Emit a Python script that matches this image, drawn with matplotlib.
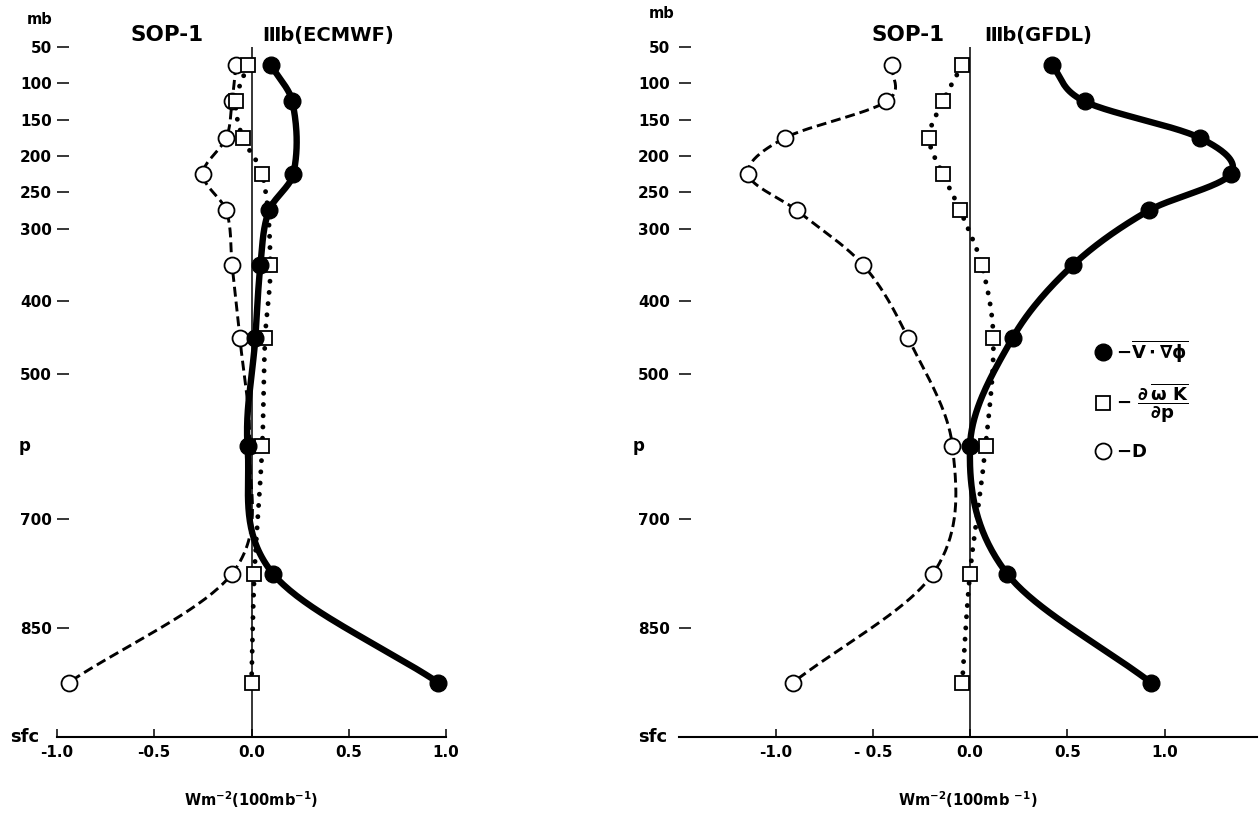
import numpy as np
import matplotlib.pyplot as plt
from matplotlib.lines import Line2D

plt.rcParams['font.family'] = ['DejaVu Sans']
plt.rcParams['font.weight'] = 'bold'
plt.rcParams['axes.labelweight'] = 'bold'
plt.rcParams['mathtext.default'] = 'bf'

W, H = 1259, 815

# layer mid-levels (mb)
levels = [75, 125, 175, 225, 275, 350, 450, 600, 775, 925]

# SOP-1, IIIb (ECMWF)
ec_vgrad = [0.10, 0.21, np.nan, 0.215, 0.09, 0.046, 0.02, -0.02, 0.11, 0.96]
ec_flux = [-0.02, -0.08, -0.045, 0.056, np.nan, 0.097, 0.07, 0.055, 0.015, 0.0]
ec_diss = [-0.08, -0.10, -0.13, -0.25, -0.13, -0.10, -0.06, -0.01, -0.10, -0.94]

# SOP-1, IIIb (GFDL)
gf_vgrad = [0.42, 0.59, 1.18, 1.34, 0.92, 0.53, 0.22, 0.0, 0.19, 0.93]
gf_flux = [-0.04, -0.14, -0.21, -0.14, -0.05, 0.06, 0.12, 0.08, 0.0, -0.04]
gf_diss = [-0.40, -0.43, -0.95, -1.14, -0.89, -0.55, -0.32, -0.09, -0.19, -0.91]

ytick_levels = [50, 100, 150, 200, 250, 300, 400, 500, 700, 850]
xticks = [-1.0, -0.5, 0.0, 0.5, 1.0]


def smooth(p, x, n=40):
    # catmull-rom style cubic through the points, x as a function of p
    p = np.asarray(p, float)
    x = np.asarray(x, float)
    ok = ~np.isnan(x)
    p, x = p[ok], x[ok]
    h = np.diff(p)
    m = np.empty_like(x)
    m[1:-1] = (x[2:] - x[:-2]) / (p[2:] - p[:-2])
    m[0] = (x[1] - x[0]) / h[0]
    m[-1] = (x[-1] - x[-2]) / h[-1]
    t = np.linspace(0, 1, n)
    h00 = 2 * t**3 - 3 * t**2 + 1
    h10 = t**3 - 2 * t**2 + t
    h01 = -2 * t**3 + 3 * t**2
    h11 = t**3 - t**2
    xs, ps = [], []
    for i in range(len(p) - 1):
        xs.append(h00 * x[i] + h10 * h[i] * m[i] + h01 * x[i + 1] + h11 * h[i] * m[i + 1])
        ps.append(p[i] + h[i] * t)
    return np.concatenate(xs), np.concatenate(ps)


def panel(ax, vgrad, flux, diss, xlim, xlabels, ypad, p_x, sfc_x, xlabel):
    ax.set_xlim(*xlim)
    ax.set_ylim(1000, 50)
    for s in ['top', 'right', 'left']:
        ax.spines[s].set_visible(False)
    ax.spines['bottom'].set_linewidth(1.5)
    ax.axvline(0, color='black', lw=1.1, zorder=1)

    # -D : dashed
    x, p = smooth(levels, diss)
    ax.plot(x, p, color='black', lw=2.1, ls=(0, (3.4, 1.7)), zorder=2)
    ax.plot(diss, levels, 'o', ms=11.5, mfc='white', mec='black', mew=1.3,
            zorder=3, clip_on=False)

    # vertical flux : dotted
    x, p = smooth(levels, flux)
    ax.plot(x, p, color='black', lw=3.5, ls=(0, (0.01, 2.3)),
            dash_capstyle='round', zorder=2)
    ax.plot(flux, levels, 's', ms=10.5, mfc='white', mec='black', mew=1.3,
            zorder=3, clip_on=False)

    # -V.grad(phi) : thick solid
    x, p = smooth(levels, vgrad)
    ax.plot(x, p, color='black', lw=4.6, solid_capstyle='round', zorder=4)
    ax.plot(vgrad, levels, 'o', ms=12, color='black', zorder=5, clip_on=False)

    ax.set_xticks(xticks, xlabels)
    ax.tick_params(axis='x', direction='in', length=5.5, width=1.1, pad=6,
                   labelsize=11)
    ax.set_yticks(ytick_levels, [str(v) for v in ytick_levels])
    ax.tick_params(axis='y', direction='in', length=8.5, width=1.1, pad=ypad,
                   labelsize=11)
    ytr = ax.get_yaxis_transform()
    ax.text(p_x, 600, 'p', transform=ytr, ha='right', va='center', fontsize=12)
    ax.text(sfc_x, 1000, 'sfc', transform=ytr, ha='right', va='center', fontsize=13)
    ax.set_xlabel(xlabel, fontsize=10.5, labelpad=21)


fig = plt.figure(figsize=(W / 100, H / 100), dpi=100)
ax_l = fig.add_axes([57 / W, 78 / H, 389 / W, 690 / H])
ax_r = fig.add_axes([679 / W, 78 / H, 578 / W, 690 / H])

panel(ax_l, ec_vgrad, ec_flux, ec_diss, (-1.0, 1.0),
      ['-1.0', '-0.5', '0.0', '0.5', '1.0'], 3.6, -0.069, -0.046,
      r'Wm$^{-2}$(100mb$^{-1}$)')
panel(ax_r, gf_vgrad, gf_flux, gf_diss, (-291 / 194.5, 287 / 194.5),
      ['-1.0', '- 0.5', '0.0', '0.5', '1.0'], 6.5, -0.059, -0.021,
      r'Wm$^{-2}$(100mb $^{-1}$)')

fig.text(40 / W, 1 - 20 / H, 'mb', ha='center', va='center', fontsize=10.5)
fig.text(662 / W, 1 - 14 / H, 'mb', ha='center', va='center', fontsize=10.5)
fig.text(167 / W, 1 - 35 / H, 'SOP-1', ha='center', va='center', fontsize=15.5)
fig.text(262 / W, 1 - 35 / H, 'Ⅲb(ECMWF)', ha='left', va='center', fontsize=14)
fig.text(908 / W, 1 - 35 / H, 'SOP-1', ha='center', va='center', fontsize=15.5)
fig.text(984 / W, 1 - 35 / H, 'Ⅲb(GFDL)', ha='left', va='center', fontsize=14)

handles = [
    Line2D([], [], ls='none', marker='o', ms=12, color='black'),
    Line2D([], [], ls='none', marker='s', ms=10.5, mfc='white', mec='black', mew=1.3),
    Line2D([], [], ls='none', marker='o', ms=11.5, mfc='white', mec='black', mew=1.3),
]
labels = [r'$-\overline{V\cdot\nabla\phi}$',
          r'$-\ \dfrac{\partial\,\overline{\omega\ K}}{\partial p}$',
          r'$-D$']
ax_r.legend(handles, labels, loc='upper left', frameon=False,
            bbox_to_anchor=(1084 / W, 1 - 329 / H), bbox_transform=fig.transFigure,
            borderpad=0, handlelength=1.1, handletextpad=0.2, labelspacing=1.0,
            prop={'size': 13, 'weight': 'bold'})

fig.savefig('out.png', dpi=100, facecolor='white')
